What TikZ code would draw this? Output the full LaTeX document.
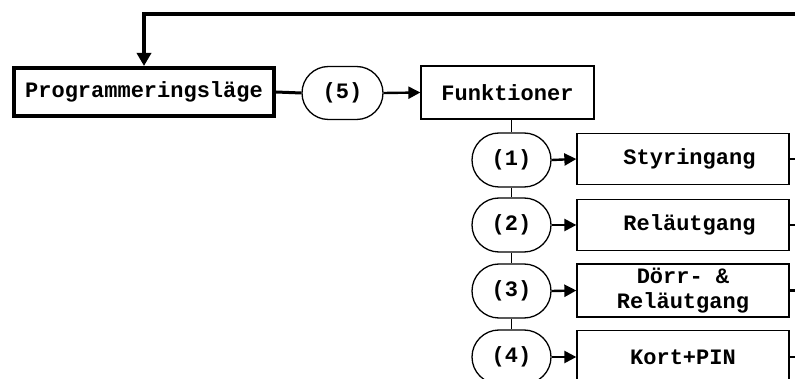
\documentclass[tikz,border=0pt]{standalone}
\usepackage{fontspec}
\setmonofont{Liberation Mono}
\usetikzlibrary{shapes.misc,arrows.meta}
\begin{document}
\begin{tikzpicture}[x=1pt,y=-1pt,
  every node/.style={font=\ttfamily\bfseries\fontsize{22}{25}\selectfont, inner sep=0pt, align=center},
  fbox/.style={draw, line width=1.3pt, minimum width=212pt, minimum height=51pt},
  pill/.style={draw, rounded rectangle, line width=1.3pt, minimum width=79pt, minimum height=54pt},
  conn/.style={line width=1.8pt},
  arr/.style={line width=2.4pt, -{Triangle[length=12pt,width=12pt]}}]
\useasboundingbox (0,0) rectangle (795,379);
% main row
\node[draw, line width=4pt, minimum width=260pt, minimum height=48pt] (prog) at (144,92) {Programmeringsläge};
\node[pill, minimum width=81pt, minimum height=53pt] (p5) at (342.5,93) {(5)};
\node[draw, line width=1.3pt, minimum width=173pt, minimum height=53pt] (funk) at (507.5,92.5) {Funktioner};
\draw[line width=3pt] (prog.east) -- (p5.west);
\draw[arr] (p5.east) -- (funk.west);
% feedback line
\coordinate (tr) at (795,14);
\draw[line width=3.5pt, -{Triangle[length=13pt,width=14pt]}] (tr) -| (prog.north);
% branch
\node[pill] (p1) at (511.5,160) {(1)};
\node[pill] (p2) at (511.5,225) {(2)};
\node[pill] (p3) at (511.5,291) {(3)};
\node[pill] (p4) at (511.5,357) {(4)};
\node[fbox] (b1) at (683,159) {\hspace*{13pt}Styringang};
\node[fbox] (b2) at (683,225) {\hspace*{13pt}Reläutgang};
\node[fbox, minimum height=53pt] (b3) at (683,290.5) {Dörr- \&\\Reläutgang};
\node[fbox, minimum height=53pt] (b4) at (683,357) {Kort+PIN};
\draw[conn] (funk.south -| p1.north) -- (p1.north);
\draw[conn] (p1.south) -- (p2.north);
\draw[conn] (p2.south) -- (p3.north);
\draw[conn] (p3.south) -- (p4.north);
\foreach \i in {1,2,3,4}{
  \draw[arr] (p\i.east) -- (b\i.west);
  \coordinate (s\i) at (795,0 |- b\i.east);
  \draw[line width=2.4pt] (b\i.east) -- (s\i);
}
\end{tikzpicture}
\end{document}
